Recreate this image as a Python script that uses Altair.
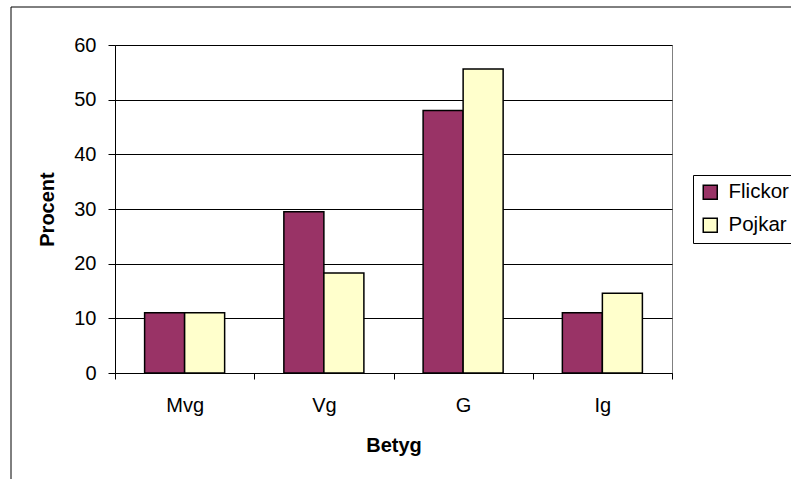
import altair as alt
import pandas as pd

# Grade categories and the share (%) of girls and boys in each
betyg = ["Mvg", "Vg", "G", "Ig"]
grupper = ["Flickor", "Pojkar"]
flickor = [11.0, 29.5, 48.0, 11.0]
pojkar = [11.0, 18.3, 55.6, 14.6]
y_ticks = [0, 10, 20, 30, 40, 50, 60]
farger = ["#993366", "#FFFFCC"]

rows = []
for i, b in enumerate(betyg):
    rows.append({"Betyg": b, "Grupp": "Flickor", "Procent": flickor[i]})
    rows.append({"Betyg": b, "Grupp": "Pojkar", "Procent": pojkar[i]})
df = pd.DataFrame(rows)

FONT = "Liberation Sans"
W, H = 557, 328          # plot area
LEFT, TOP = 115, 45      # plot area offset inside the page

bars = alt.Chart(df).mark_bar(stroke="black", strokeWidth=1.5).encode(
    x=alt.X(
        "Betyg:N",
        sort=betyg,
        scale=alt.Scale(paddingInner=0, paddingOuter=0),
        axis=alt.Axis(
            title="Betyg",
            labelAngle=0,
            tickBand="extent",
            grid=False,
            domainColor="black",
            tickColor="black",
            tickSize=6,
            labelFont=FONT,
            labelFontSize=20,
            labelColor="black",
            labelBaseline="alphabetic",
            labelPadding=32,
            titleFont=FONT,
            titleFontSize=20,
            titleFontWeight="bold",
            titleColor="black",
            titleBaseline="alphabetic",
            titleX=W / 2,
            titleY=78,
        ),
    ),
    xOffset=alt.XOffset(
        "Grupp:N",
        sort=grupper,
        scale=alt.Scale(paddingInner=0, paddingOuter=0.74),
    ),
    y=alt.Y(
        "Procent:Q",
        scale=alt.Scale(domain=[0, 60], nice=False),
        axis=alt.Axis(
            title="Procent",
            values=y_ticks,
            grid=True,
            gridColor="black",
            gridWidth=1,
            domainColor="black",
            tickColor="black",
            tickSize=7,
            labelFont=FONT,
            labelFontSize=20,
            labelColor="black",
            labelPadding=12,
            titleFont=FONT,
            titleFontSize=20,
            titleFontWeight="bold",
            titleColor="black",
            titleAngle=270,
            titleAlign="center",
            titleBaseline="alphabetic",
            titleX=-62,
            titleY=H / 2,
        ),
    ),
    color=alt.Color(
        "Grupp:N",
        sort=grupper,
        scale=alt.Scale(domain=grupper, range=farger),
        legend=alt.Legend(
            title=None,
            orient="none",
            legendX=578,
            legendY=130,
            strokeColor="black",
            fillColor="white",
            padding=7,
            symbolType="square",
            symbolSize=196,
            symbolStrokeColor="black",
            symbolStrokeWidth=1.5,
            symbolOpacity=1,
            labelFont=FONT,
            labelFontSize=20.5,
            labelColor="black",
            labelOffset=8,
            labelLimit=200,
            rowPadding=12,
        ),
    ),
)

# Outer chart-area frame (left and top edges)
frame_src = alt.Data(values=[{"edge": "frame"}])
frame_left = alt.Chart(frame_src).mark_rule(color="black", strokeWidth=1).encode(
    x=alt.value(11 - LEFT), y=alt.value(7 - TOP), y2=alt.value(479 - TOP + 5)
)
frame_top = alt.Chart(frame_src).mark_rule(color="black", strokeWidth=1).encode(
    x=alt.value(11 - LEFT), x2=alt.value(791 - LEFT + 5), y=alt.value(7 - TOP)
)

chart = (
    alt.layer(bars, frame_left, frame_top)
    .properties(
        width=W,
        height=H,
        padding={"left": LEFT, "top": TOP, "right": 791 - LEFT - W, "bottom": 479 - TOP - H},
        autosize=alt.AutoSizeParams(type="none"),
        background="white",
    )
    .configure_view(stroke="#808080", strokeWidth=1)
)

chart.save("out.html", embed_options={"renderer": "svg", "actions": False})
